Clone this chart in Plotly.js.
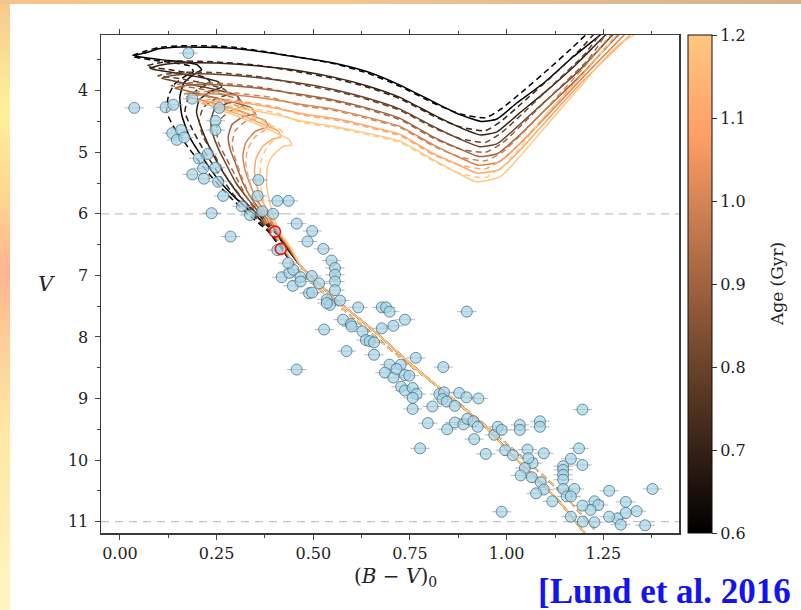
<!DOCTYPE html>
<html>
<head>
<meta charset="utf-8">
<script src="https://cdn.plot.ly/plotly-3.0.1.min.js"></script>
<style>
  html, body { margin:0; padding:0; width:801px; height:610px; overflow:hidden; }
  body { position:relative;
    background: linear-gradient(180deg, #f6c98c 0px, #fff19c 110px, #ffd48e 200px, #ffb58f 270px, #ffe6a2 420px, #fff5c2 610px); }
  #topband { position:absolute; left:0; top:0; width:801px; height:4px;
    background: linear-gradient(90deg, #f3c48c, #f2c890 40%, #e2bb90 70%, #d5b08e); }
  #paper { position:absolute; left:10px; top:4px; width:791px; height:606px; background:#ffffff; }
  #chart { position:absolute; left:0; top:0; width:801px; height:610px; }
</style>
</head>
<body>
<div id="topband"></div>
<div id="paper"></div>
<div id="chart"></div>
<script>
// ---------------- data ----------------
const ages = [0.6, 0.7, 0.8, 0.9, 1.0, 1.1, 1.2];
const ageColors = ['rgb(0,0,0)','rgb(53,33,21)','rgb(106,66,42)','rgb(159,100,63)','rgb(212,133,85)','rgb(255,166,106)','rgb(255,199,127)'];

// lower main sequence shared by the solid isochrones
const msBV = [1.209,1.198,1.146,1.086,1.017,0.948,0.853,0.750,0.664,0.560,0.47];
const msV  = [11.25,11.16,10.75,10.35,9.94,9.48,8.97,8.43,7.94,7.40,6.87];
// lower main sequence shared by the dashed isochrones
const msDashBV = [1.227,1.19,1.14,1.08,1.005,0.93,0.835,0.737,0.648,0.548,0.455];
const msDashV  = [11.12,10.86,10.52,10.17,9.76,9.36,8.87,8.40,7.93,7.40,6.88];

// upper parts (turn-off, hook, subgiant branch, red giant branch), solid
const solidBV = [
 [0.43,0.40,0.345,0.30,0.255,0.215,0.18,0.16,0.155,0.165,0.19,0.211,0.20,0.17,0.11,0.05,0.037,0.07,0.10,0.16,0.29,0.466,0.552,0.638,0.724,0.81,0.879,0.935,0.975,1.026,1.095,1.172,1.241,1.26],
 [0.432,0.403,0.355,0.315,0.285,0.255,0.23,0.21,0.198,0.205,0.235,0.263,0.255,0.22,0.16,0.10,0.078,0.10,0.15,0.25,0.36,0.466,0.552,0.638,0.724,0.81,0.88,0.932,0.975,1.03,1.10,1.18,1.255,1.275],
 [0.434,0.405,0.362,0.33,0.30,0.275,0.255,0.24,0.235,0.245,0.28,0.31,0.30,0.26,0.19,0.13,0.108,0.13,0.18,0.27,0.37,0.466,0.552,0.638,0.724,0.81,0.88,0.93,0.976,1.03,1.10,1.19,1.27,1.29],
 [0.436,0.407,0.37,0.34,0.318,0.30,0.285,0.28,0.29,0.32,0.349,0.34,0.30,0.23,0.165,0.142,0.165,0.21,0.29,0.38,0.466,0.552,0.638,0.724,0.81,0.88,0.928,0.977,1.032,1.10,1.19,1.285,1.305],
 [0.438,0.409,0.378,0.352,0.335,0.322,0.318,0.325,0.35,0.384,0.375,0.34,0.27,0.195,0.172,0.195,0.24,0.31,0.39,0.466,0.552,0.638,0.724,0.81,0.88,0.926,0.979,1.033,1.095,1.19,1.30,1.318],
 [0.44,0.411,0.385,0.365,0.352,0.348,0.352,0.37,0.395,0.416,0.41,0.375,0.31,0.235,0.211,0.235,0.275,0.33,0.40,0.466,0.552,0.638,0.724,0.81,0.88,0.924,0.981,1.034,1.09,1.19,1.315,1.333],
 [0.442,0.413,0.395,0.385,0.379,0.381,0.39,0.405,0.425,0.444,0.437,0.405,0.345,0.275,0.25,0.27,0.30,0.35,0.41,0.466,0.552,0.638,0.724,0.81,0.88,0.922,0.983,1.034,1.086,1.138,1.19,1.241,1.293,1.328,1.345]
];
const solidV = [
 [6.55,6.30,6.00,5.75,5.45,5.10,4.75,4.40,4.10,3.88,3.74,3.66,3.58,3.54,3.50,3.45,3.43,3.38,3.32,3.29,3.31,3.46,3.55,3.69,3.91,4.18,4.39,4.50,4.46,4.20,3.88,3.45,3.10,3.00],
 [6.55,6.30,6.00,5.75,5.50,5.20,4.90,4.60,4.35,4.15,4.01,3.94,3.86,3.80,3.73,3.67,3.64,3.59,3.55,3.55,3.60,3.68,3.78,3.92,4.11,4.39,4.60,4.72,4.67,4.38,4.02,3.57,3.10,3.00],
 [6.55,6.30,6.00,5.75,5.50,5.20,4.95,4.70,4.50,4.30,4.20,4.15,4.07,4.00,3.91,3.83,3.80,3.76,3.73,3.74,3.80,3.88,3.98,4.12,4.30,4.58,4.79,4.91,4.86,4.57,4.17,3.66,3.12,3.00],
 [6.55,6.30,6.00,5.75,5.50,5.20,4.95,4.75,4.55,4.42,4.37,4.28,4.20,4.09,3.99,3.96,3.92,3.90,3.92,3.98,4.06,4.15,4.28,4.45,4.75,4.95,5.07,5.02,4.73,4.31,3.76,3.12,3.00],
 [6.55,6.30,6.00,5.75,5.50,5.25,5.05,4.85,4.66,4.58,4.49,4.40,4.25,4.13,4.10,4.07,4.05,4.08,4.14,4.22,4.30,4.43,4.58,4.88,5.09,5.21,5.16,4.87,4.47,3.83,3.12,3.00],
 [6.55,6.30,6.00,5.75,5.50,5.30,5.10,4.90,4.79,4.75,4.66,4.56,4.39,4.24,4.21,4.18,4.17,4.21,4.28,4.37,4.45,4.57,4.71,5.02,5.22,5.34,5.28,4.97,4.58,3.89,3.12,3.00],
 [6.55,6.30,6.00,5.75,5.50,5.25,5.10,4.99,4.90,4.88,4.79,4.69,4.52,4.35,4.31,4.29,4.29,4.33,4.40,4.49,4.58,4.69,4.82,5.12,5.36,5.48,5.40,5.07,4.69,4.31,3.94,3.56,3.23,3.10,3.00]
];

// upper parts, dashed
const dashBV = [
 [0.415,0.385,0.33,0.28,0.23,0.18,0.14,0.121,0.125,0.14,0.17,0.19,0.18,0.14,0.08,0.03,0.06,0.10,0.16,0.29,0.466,0.552,0.638,0.724,0.81,0.88,0.945,0.983,1.04,1.11,1.17,1.215],
 [0.417,0.388,0.34,0.295,0.255,0.215,0.185,0.168,0.175,0.205,0.233,0.225,0.19,0.13,0.08,0.068,0.09,0.14,0.24,0.36,0.466,0.552,0.638,0.724,0.81,0.88,0.945,0.985,1.04,1.12,1.19,1.23],
 [0.419,0.39,0.348,0.31,0.275,0.245,0.215,0.205,0.215,0.25,0.28,0.27,0.23,0.16,0.11,0.098,0.12,0.17,0.26,0.37,0.466,0.552,0.638,0.724,0.81,0.88,0.945,0.987,1.04,1.12,1.20,1.245],
 [0.421,0.392,0.355,0.325,0.30,0.275,0.255,0.25,0.265,0.295,0.32,0.31,0.27,0.20,0.145,0.132,0.155,0.20,0.28,0.38,0.466,0.552,0.638,0.724,0.81,0.88,0.945,0.989,1.04,1.12,1.21,1.26],
 [0.423,0.394,0.362,0.335,0.315,0.298,0.29,0.298,0.325,0.355,0.347,0.31,0.24,0.18,0.162,0.185,0.23,0.30,0.39,0.466,0.552,0.638,0.724,0.81,0.88,0.945,0.991,1.04,1.12,1.20,1.275],
 [0.425,0.396,0.37,0.348,0.332,0.325,0.33,0.35,0.375,0.39,0.383,0.35,0.28,0.215,0.20,0.225,0.265,0.32,0.40,0.466,0.552,0.638,0.724,0.81,0.88,0.945,0.993,1.04,1.12,1.20,1.29],
 [0.427,0.398,0.38,0.368,0.362,0.365,0.375,0.39,0.408,0.422,0.416,0.385,0.325,0.26,0.24,0.26,0.29,0.34,0.41,0.466,0.552,0.638,0.724,0.81,0.88,0.945,0.995,1.035,1.105,1.19,1.29]
];
const dashV = [
 [6.55,6.30,6.00,5.70,5.35,4.95,4.60,4.35,4.10,3.90,3.76,3.69,3.60,3.55,3.50,3.44,3.37,3.30,3.27,3.29,3.46,3.56,3.71,3.93,4.20,4.38,4.44,4.31,4.02,3.64,3.30,3.03],
 [6.55,6.30,6.00,5.70,5.35,4.95,4.60,4.35,4.15,3.96,3.88,3.80,3.73,3.66,3.62,3.60,3.56,3.52,3.53,3.59,3.70,3.80,3.94,4.13,4.41,4.59,4.65,4.50,4.20,3.75,3.33,3.05],
 [6.55,6.30,6.00,5.70,5.40,5.05,4.75,4.50,4.28,4.12,4.06,3.98,3.90,3.81,3.77,3.76,3.73,3.70,3.71,3.78,3.90,4.00,4.14,4.32,4.60,4.78,4.84,4.68,4.38,3.90,3.42,3.05],
 [6.55,6.30,6.00,5.70,5.40,5.10,4.85,4.62,4.43,4.30,4.24,4.15,4.07,3.96,3.93,3.92,3.89,3.87,3.89,3.96,4.08,4.17,4.30,4.47,4.77,4.95,5.00,4.85,4.55,4.05,3.50,3.05],
 [6.55,6.30,6.00,5.70,5.40,5.10,4.88,4.65,4.50,4.44,4.35,4.26,4.12,4.05,4.06,4.03,4.01,4.04,4.11,4.24,4.32,4.45,4.60,4.90,5.08,5.14,4.99,4.70,4.17,3.62,3.05],
 [6.55,6.30,6.00,5.70,5.40,5.15,4.95,4.75,4.64,4.60,4.51,4.42,4.27,4.18,4.17,4.15,4.14,4.18,4.26,4.39,4.47,4.59,4.73,5.04,5.21,5.27,5.10,4.82,4.27,3.70,3.05],
 [6.55,6.30,6.00,5.70,5.40,5.15,4.98,4.85,4.76,4.72,4.64,4.55,4.39,4.27,4.27,4.25,4.25,4.29,4.37,4.51,4.60,4.71,4.84,5.14,5.35,5.41,5.20,4.92,4.36,3.80,3.05]
];

// cluster stars (B-V)_0 and V
const starBV = [0.177,0.037,0.118,0.138,0.187,0.257,0.247,0.247,0.135,0.158,0.147,0.166,0.227,0.204,0.215,0.187,0.217,0.247,0.254,0.358,
 0.267,0.356,0.315,0.336,0.368,0.396,0.407,0.436,0.237,0.286,0.457,0.497,0.485,0.526,0.547,0.556,0.556,0.556,0.556,0.418,
 0.438,0.448,0.447,0.467,0.467,0.489,0.497,0.496,0.515,0.535,0.543,0.535,0.569,0.616,0.577,0.597,0.599,0.627,0.528,0.636,
 0.586,0.457,0.435,0.407,0.646,0.657,0.657,0.677,0.688,0.697,0.897,0.677,0.707,0.737,0.697,0.726,0.685,0.707,0.715,0.737,
 0.748,0.765,0.836,0.727,0.737,0.757,0.767,0.757,0.757,0.808,0.826,0.838,0.834,0.845,0.877,0.896,0.927,0.866,0.796,0.776,
 0.846,0.866,0.888,0.898,0.914,0.925,0.916,0.946,0.968,0.977,0.987,0.987,0.996,1.016,1.034,1.034,1.086,1.086,1.054,1.067,
 1.056,1.047,1.036,1.065,1.088,1.096,1.076,1.096,1.118,1.146,1.146,1.146,1.146,1.146,1.166,1.187,1.196,1.196,1.175,1.155,
 1.166,1.227,1.237,1.217,1.196,1.166,1.197,1.227,1.265,1.336,1.308,1.308,1.286,1.295,1.265,1.358,1.377];
const starV = [3.39,4.28,4.27,4.23,4.13,4.28,4.49,4.64,4.69,4.64,4.80,4.76,5.03,5.10,5.26,5.36,5.43,5.25,5.48,5.45,
 5.71,5.71,5.88,6.02,5.96,6.00,5.79,5.79,5.99,6.37,6.16,6.28,6.45,6.57,6.76,6.88,6.99,7.10,7.24,7.03,
 6.96,6.91,7.17,7.03,7.10,7.29,7.28,7.01,7.13,7.39,7.48,7.45,7.41,7.52,7.72,7.79,7.83,7.91,7.88,8.05,
 8.23,8.53,6.80,6.59,8.07,8.09,8.29,7.52,7.52,7.59,7.59,7.86,7.82,7.72,8.45,8.45,8.58,8.66,8.52,8.62,
 8.63,8.34,8.49,8.81,8.87,8.83,8.93,8.99,9.17,9.13,8.93,8.90,9.01,9.05,8.91,8.98,9.00,9.12,9.40,9.81,
 9.50,9.39,9.42,9.33,9.37,9.46,9.66,9.90,9.59,9.46,9.51,10.84,9.84,9.92,9.43,9.51,9.37,9.46,9.83,10.05,
 9.97,10.13,10.25,10.28,10.36,10.48,10.54,9.89,10.67,10.10,10.16,10.24,10.32,10.47,9.98,9.81,10.08,9.18,10.47,10.59,
 10.59,10.67,10.73,10.81,10.74,10.92,11.00,11.01,10.50,10.83,10.68,10.86,10.95,11.05,10.92,11.06,10.47];
const starErr = 0.025;

// highlighted stars
const redBV = [0.401, 0.416];
const redV  = [6.29, 6.57];

const xTickVals = [0.00, 0.25, 0.50, 0.75, 1.00, 1.25];
const yTickVals = [4, 5, 6, 7, 8, 9, 10, 11];
const cbTickVals = [0.6, 0.7, 0.8, 0.9, 1.0, 1.1, 1.2];
const refLines = [6, 11];

// ---------------- traces ----------------
const copper = [[0,'rgb(0,0,0)'],[0.8,'rgb(255,159,101)'],[1,'rgb(255,199,127)']];
const traces = [];
for (let i = 0; i < ages.length; i++) {
  traces.push({ type:'scatter', mode:'lines', x: msBV.concat(solidBV[i]), y: msV.concat(solidV[i]),
    line:{color:ageColors[i], width:1.5, shape:'spline', smoothing:0.5}, hoverinfo:'skip', showlegend:false });
  traces.push({ type:'scatter', mode:'lines', x: msDashBV.concat(dashBV[i]), y: msDashV.concat(dashV[i]),
    line:{color:ageColors[i], width:1.5, dash:'6px,4px', shape:'spline', smoothing:0.5}, hoverinfo:'skip', showlegend:false });
}
traces.push({ type:'scatter', mode:'markers', x: starBV, y: starV,
  error_x:{type:'constant', value:starErr, color:'rgba(165,165,165,0.8)', thickness:1, width:0},
  marker:{size:11, color:'rgba(166,212,230,0.72)', line:{color:'rgba(60,100,120,0.7)', width:1}},
  showlegend:false });
traces.push({ type:'scatter', mode:'markers', x: redBV, y: redV,
  marker:{size:11, color:'rgba(166,212,230,0.4)', line:{color:'#e8141a', width:1.6}}, showlegend:false });
// colour bar carrier (outside axis range)
traces.push({ type:'scatter', mode:'markers', x:[-5], y:[20], showlegend:false, hoverinfo:'skip',
  marker:{color:[0.6], cmin:0.6, cmax:1.2, colorscale:copper, showscale:true, size:1,
    colorbar:{ x:1.0156, xanchor:'left', xpad:0, y:0.5, yanchor:'middle', ypad:0, len:1, lenmode:'fraction',
      thickness:24, thicknessmode:'pixels', outlinewidth:1, outlinecolor:'#111',
      tickmode:'array', tickvals:cbTickVals, ticktext:cbTickVals.map(v=>v.toFixed(1)),
      ticks:'outside', ticklen:5, tickwidth:1, tickcolor:'#333',
      tickfont:{family:'DejaVu Serif', size:16, color:'#222'} } } });

const shapes = refLines.map(v => ({ type:'line', xref:'paper', x0:0, x1:1, yref:'y', y0:v, y1:v,
  line:{color:'#c4c4c4', width:1.3, dash:'8px,6px'}, layer:'below' }));

const layout = {
  width:801, height:610,
  margin:{l:101, r:122, t:35, b:77},
  paper_bgcolor:'rgba(0,0,0,0)', plot_bgcolor:'#ffffff',
  xaxis:{ range:[-0.049, 1.4456], tickmode:'array', tickvals:xTickVals, ticktext:xTickVals.map(v=>v.toFixed(2)),
    ticks:'outside', ticklen:5, tickwidth:1, tickcolor:'#444', showgrid:false, zeroline:false,
    showline:true, linecolor:'#3a3a3a', linewidth:1.5, mirror:'ticks',
    minor:{dtick:0.125, tick0:0, ticks:'outside', ticklen:3, tickcolor:'#444', showgrid:false},
    tickfont:{family:'DejaVu Serif', size:16, color:'#222'} },
  yaxis:{ range:[11.185, 3.096], tickmode:'array', tickvals:yTickVals, ticktext:yTickVals.map(String),
    ticks:'outside', ticklen:5, tickwidth:1, tickcolor:'#444', showgrid:false, zeroline:false,
    showline:true, linecolor:'#3a3a3a', linewidth:1.5, mirror:true,
    minor:{dtick:0.5, tick0:0, ticks:'outside', ticklen:3, tickcolor:'#444', showgrid:false},
    tickfont:{family:'DejaVu Serif', size:16, color:'#222'}, ticklabelstandoff:3 },
  shapes: shapes,
  annotations:[
    { text:'<i>V</i>', xref:'paper', yref:'paper', x:-0.095, y:0.50, showarrow:false,
      font:{family:'DejaVu Serif', size:21, color:'#222'}, xanchor:'center', yanchor:'middle' },
    { text:'(<i>B</i> − <i>V</i>)<sub>0</sub>', xref:'paper', yref:'paper', x:0.5087, y:-0.088, showarrow:false,
      font:{family:'DejaVu Serif', size:20, color:'#222'}, xanchor:'center', yanchor:'middle' },
    { text:'Age (Gyr)', xref:'paper', yref:'paper', x:1.1696, y:0.50, showarrow:false, textangle:-90,
      font:{family:'DejaVu Serif', size:17, color:'#222'}, xanchor:'center', yanchor:'middle' },
    { text:'<b>[Lund et al. 2016</b>', xref:'paper', yref:'paper', x:0.7526, y:-0.117, showarrow:false,
      font:{family:'Liberation Serif', size:35, color:'#1414f0'}, xanchor:'left', yanchor:'middle' }
  ]
};
Plotly.newPlot('chart', traces, layout, {displayModeBar:false, staticPlot:true});
</script>
</body>
</html>
